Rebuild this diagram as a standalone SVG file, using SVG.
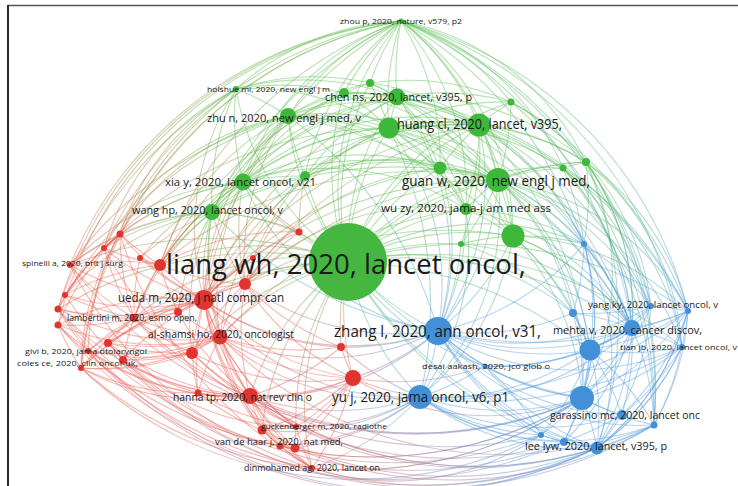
<svg xmlns="http://www.w3.org/2000/svg" width="738" height="486" viewBox="0 0 738 486">
<defs>
<linearGradient id="ggr" x1="0" y1="0" x2="0" y2="1"><stop offset="0" stop-color="#5cbf52"/><stop offset="1" stop-color="#ec6157"/></linearGradient>
<linearGradient id="ggb" x1="0" y1="0" x2="0" y2="1"><stop offset="0" stop-color="#5cbf52"/><stop offset="1" stop-color="#5aa0e2"/></linearGradient>
<linearGradient id="grb" x1="0" y1="0" x2="1" y2="0"><stop offset="0" stop-color="#ec6157"/><stop offset="1" stop-color="#5aa0e2"/></linearGradient>
</defs>
<style>
#edges{fill:none;stroke-width:1.1;stroke-opacity:.45}
.g{stroke:#5cbf52}.r{stroke:#ec6157}.b{stroke:#5aa0e2}
.gr{stroke:url(#ggr)}.gb{stroke:url(#ggb)}.rb{stroke:url(#grb)}
.ng{fill:#3eb83a}.nr{fill:#e2342e}.nb{fill:#4190d8}
text{font-family:"Open Sans","Liberation Sans",sans-serif;fill:#1a1a1a}
</style>
<rect width="738" height="486" fill="#fff"/>
<line x1="8" y1="5.5" x2="738" y2="5.5" stroke="#555" stroke-width="1.5"/>
<line x1="8" y1="5" x2="8" y2="486" stroke="#2a2a2a" stroke-width="2"/>
<g id="edges">
<g class="g">
<path d="M348 262A260 260 0 0 1 401 21"/><path d="M348 262A260 260 0 0 1 370 83"/><path d="M348 262A260 260 0 0 1 344 93"/><path d="M348 262A260 260 0 0 1 397 97"/><path d="M348 262A260 260 0 0 1 236 89"/><path d="M348 262A260 260 0 0 1 288 116"/><path d="M348 262A260 260 0 0 1 389 128"/><path d="M348 262A260 260 0 0 1 479 125"/><path d="M348 262A260 260 0 0 1 440 168"/><path d="M348 262A260 260 0 0 1 498 180"/><path d="M348 262A260 260 0 0 1 305 176"/><path d="M348 262A260 260 0 0 1 243 182"/><path d="M348 262A260 260 0 0 0 212 212"/><path d="M348 262A260 260 0 0 1 466 209"/><path d="M348 262A260 260 0 0 1 513 236"/><path d="M348 262A260 260 0 0 1 461 244"/><path d="M348 262A400 400 0 0 1 586 162"/><path d="M348 262A260 260 0 0 1 563 168"/><path d="M348 262A260 260 0 0 1 511 102"/>
<path d="M401 21A260 260 0 0 0 370 83"/><path d="M401 21A260 260 0 0 0 344 93"/><path d="M401 21A260 260 0 0 0 397 97"/><path d="M401 21A260 260 0 0 0 389 128"/><path d="M401 21A260 260 0 0 1 479 125"/><path d="M401 21A260 260 0 0 0 288 116"/><path d="M401 21A260 260 0 0 0 236 89"/><path d="M401 21A260 260 0 0 1 511 102"/><path d="M401 21A260 260 0 0 1 586 162"/><path d="M401 21A260 260 0 0 1 498 180"/><path d="M401 21A260 260 0 0 0 243 182"/><path d="M401 21A400 400 0 0 0 212 212"/><path d="M401 21A260 260 0 0 0 305 176"/><path d="M401 21A260 260 0 0 1 440 168"/><path d="M401 21A260 260 0 0 1 466 209"/><path d="M401 21A260 260 0 0 1 513 236"/><path d="M401 21A260 260 0 0 1 563 168"/>
<path d="M389 128A260 260 0 0 1 397 97"/><path d="M389 128A260 260 0 0 0 344 93"/><path d="M389 128A260 260 0 0 0 370 83"/><path d="M389 128A260 260 0 0 0 288 116"/><path d="M389 128A260 260 0 0 0 236 89"/><path d="M389 128A260 260 0 0 1 479 125"/><path d="M389 128A260 260 0 0 1 440 168"/><path d="M389 128A260 260 0 0 1 498 180"/><path d="M389 128A260 260 0 0 0 243 182"/><path d="M389 128A260 260 0 0 0 212 212"/><path d="M389 128A260 260 0 0 0 305 176"/><path d="M389 128A260 260 0 0 1 466 209"/><path d="M389 128A260 260 0 0 1 513 236"/><path d="M389 128A260 260 0 0 1 511 102"/><path d="M389 128A260 260 0 0 1 586 162"/><path d="M389 128A260 260 0 0 1 563 168"/>
<path d="M479 125A260 260 0 0 0 397 97"/><path d="M479 125A260 260 0 0 1 511 102"/><path d="M479 125A260 260 0 0 1 586 162"/><path d="M479 125A260 260 0 0 1 563 168"/><path d="M479 125A260 260 0 0 0 440 168"/><path d="M479 125A260 260 0 0 1 498 180"/><path d="M479 125A260 260 0 0 1 466 209"/><path d="M479 125A260 260 0 0 1 513 236"/><path d="M479 125A260 260 0 0 0 288 116"/><path d="M479 125A260 260 0 0 0 344 93"/><path d="M479 125A260 260 0 0 0 370 83"/><path d="M479 125A260 260 0 0 0 243 182"/><path d="M479 125A400 400 0 0 0 212 212"/><path d="M479 125A260 260 0 0 0 305 176"/><path d="M479 125A260 260 0 0 1 461 244"/>
<path d="M498 180A260 260 0 0 1 586 162"/><path d="M498 180A260 260 0 0 1 563 168"/><path d="M498 180A260 260 0 0 0 440 168"/><path d="M498 180A260 260 0 0 0 466 209"/><path d="M498 180A260 260 0 0 1 513 236"/><path d="M498 180A260 260 0 0 1 461 244"/><path d="M498 180A260 260 0 0 0 397 97"/><path d="M498 180A260 260 0 0 0 511 102"/><path d="M498 180A260 260 0 0 0 288 116"/><path d="M498 180A400 400 0 0 0 243 182"/><path d="M498 180A400 400 0 0 0 212 212"/><path d="M498 180A260 260 0 0 0 305 176"/><path d="M498 180A260 260 0 0 0 344 93"/>
<path d="M397 97A260 260 0 0 0 370 83"/><path d="M397 97A260 260 0 0 0 344 93"/><path d="M397 97A260 260 0 0 0 288 116"/><path d="M397 97A260 260 0 0 0 236 89"/><path d="M397 97A260 260 0 0 1 511 102"/><path d="M397 97A260 260 0 0 1 440 168"/><path d="M397 97A260 260 0 0 1 466 209"/><path d="M397 97A260 260 0 0 1 513 236"/><path d="M397 97A260 260 0 0 0 243 182"/><path d="M397 97A260 260 0 0 0 212 212"/><path d="M397 97A260 260 0 0 0 305 176"/><path d="M397 97A260 260 0 0 1 586 162"/>
<path d="M288 116A260 260 0 0 0 236 89"/><path d="M288 116A260 260 0 0 1 344 93"/><path d="M288 116A260 260 0 0 1 370 83"/><path d="M288 116A260 260 0 0 0 243 182"/><path d="M288 116A260 260 0 0 0 212 212"/><path d="M288 116A260 260 0 0 0 305 176"/><path d="M288 116A260 260 0 0 1 440 168"/><path d="M288 116A260 260 0 0 1 466 209"/><path d="M288 116A400 400 0 0 1 513 236"/>
<path d="M243 182A260 260 0 0 0 212 212"/><path d="M243 182A260 260 0 0 1 305 176"/><path d="M243 182A260 260 0 0 1 236 89"/><path d="M243 182A260 260 0 0 1 344 93"/><path d="M243 182A260 260 0 0 1 440 168"/><path d="M243 182A260 260 0 0 1 466 209"/>
<path d="M212 212A260 260 0 0 1 305 176"/><path d="M212 212A260 260 0 0 1 236 89"/><path d="M212 212A260 260 0 0 1 344 93"/>
<path d="M511 102A260 260 0 0 1 586 162"/><path d="M586 162A260 260 0 0 0 563 168"/><path d="M370 83A260 260 0 0 0 344 93"/><path d="M370 83A260 260 0 0 1 397 97"/><path d="M370 83A260 260 0 0 1 511 102"/><path d="M440 168A260 260 0 0 1 498 180"/><path d="M440 168A260 260 0 0 1 466 209"/><path d="M466 209A260 260 0 0 1 513 236"/><path d="M513 236A260 260 0 0 0 461 244"/><path d="M305 176A260 260 0 0 1 440 168"/><path d="M236 89A260 260 0 0 1 344 93"/><path d="M236 89A260 260 0 0 1 370 83"/><path d="M344 93A260 260 0 0 1 397 97"/>
</g>
<g class="gb">
<path d="M348 262A260 260 0 0 0 438 331"/><path d="M348 262A260 260 0 0 0 420 397"/><path d="M348 262A400 400 0 0 1 632 328"/><path d="M348 262A400 400 0 0 0 582 398"/><path d="M348 262A400 400 0 0 1 590 350"/><path d="M348 262A400 400 0 0 0 597 448"/><path d="M348 262A260 260 0 0 1 584 244"/><path d="M348 262A260 260 0 0 1 573 313"/><path d="M348 262A260 260 0 0 0 485 366"/><path d="M348 262A400 400 0 0 1 688 311"/><path d="M348 262A400 400 0 0 1 682 347"/><path d="M348 262A400 400 0 0 0 541 435"/>
<path d="M401 21A400 400 0 0 1 688 311"/><path d="M401 21A400 400 0 0 1 682 347"/><path d="M401 21A400 400 0 0 1 632 328"/><path d="M401 21A400 400 0 0 1 584 244"/><path d="M401 21A400 400 0 0 1 651 306"/><path d="M401 21A400 400 0 0 1 654 425"/>
<path d="M389 128A260 260 0 0 1 438 331"/><path d="M389 128A400 400 0 0 1 632 328"/><path d="M389 128A260 260 0 0 1 584 244"/><path d="M389 128A400 400 0 0 1 420 397"/>
<path d="M479 125A260 260 0 0 1 584 244"/><path d="M479 125A400 400 0 0 1 632 328"/><path d="M479 125A400 400 0 0 1 688 311"/><path d="M479 125A400 400 0 0 1 651 306"/><path d="M479 125A260 260 0 0 1 438 331"/><path d="M479 125A400 400 0 0 1 590 350"/>
<path d="M498 180A260 260 0 0 1 584 244"/><path d="M498 180A260 260 0 0 1 632 328"/><path d="M498 180A260 260 0 0 1 688 311"/><path d="M498 180A260 260 0 0 1 651 306"/><path d="M498 180A260 260 0 0 1 438 331"/><path d="M498 180A260 260 0 0 1 590 350"/><path d="M498 180A260 260 0 0 1 682 347"/><path d="M498 180A260 260 0 0 1 582 398"/><path d="M498 180A260 260 0 0 1 573 313"/><path d="M498 180A260 260 0 0 1 420 397"/>
<path d="M397 97A400 400 0 0 1 632 328"/><path d="M397 97A260 260 0 0 1 584 244"/><path d="M397 97A400 400 0 0 1 688 311"/><path d="M397 97A260 260 0 0 1 438 331"/>
<path d="M288 116A400 400 0 0 1 438 331"/><path d="M288 116A400 400 0 0 1 632 328"/><path d="M243 182A260 260 0 0 0 438 331"/><path d="M212 212A400 400 0 0 0 438 331"/>
<path d="M513 236A260 260 0 0 1 584 244"/><path d="M513 236A260 260 0 0 1 632 328"/><path d="M513 236A260 260 0 0 1 590 350"/><path d="M513 236A260 260 0 0 1 688 311"/><path d="M513 236A260 260 0 0 1 573 313"/><path d="M438 331A260 260 0 0 0 513 236"/><path d="M420 397A260 260 0 0 0 513 236"/><path d="M582 398A260 260 0 0 0 513 236"/>
<path d="M461 244A260 260 0 0 1 573 313"/><path d="M461 244A260 260 0 0 1 632 328"/><path d="M438 331A260 260 0 0 0 461 244"/>
<path d="M466 209A260 260 0 0 1 632 328"/><path d="M466 209A260 260 0 0 1 584 244"/><path d="M466 209A260 260 0 0 1 420 397"/><path d="M438 331A260 260 0 0 0 466 209"/><path d="M440 168A260 260 0 0 1 438 331"/>
<path d="M563 168A260 260 0 0 1 584 244"/><path d="M563 168A260 260 0 0 1 632 328"/><path d="M563 168A260 260 0 0 1 651 306"/><path d="M563 168A400 400 0 0 1 654 425"/><path d="M563 168A260 260 0 0 1 682 347"/>
<path d="M586 162A260 260 0 0 1 651 306"/><path d="M586 162A260 260 0 0 1 632 328"/><path d="M586 162A260 260 0 0 1 584 244"/><path d="M586 162A260 260 0 0 1 688 311"/><path d="M586 162A260 260 0 0 1 682 347"/><path d="M586 162A400 400 0 0 1 597 448"/><path d="M586 162A400 400 0 0 1 654 425"/><path d="M582 398A260 260 0 0 0 586 162"/><path d="M632 328A260 260 0 0 0 586 162"/><path d="M632 328A260 260 0 0 0 563 168"/><path d="M632 328A260 260 0 0 0 513 236"/>
<path d="M511 102A400 400 0 0 1 688 311"/><path d="M511 102A400 400 0 0 1 654 425"/>
</g>
<g class="gr">
<path d="M348 262A260 260 0 0 0 204 300"/><path d="M348 262A260 260 0 0 0 245 284"/><path d="M348 262A260 260 0 0 0 160 265"/><path d="M348 262A260 260 0 0 0 220 337"/><path d="M348 262A260 260 0 0 0 250 396"/><path d="M348 262A260 260 0 0 0 353 378"/><path d="M348 262A260 260 0 0 0 341 347"/><path d="M348 262A260 260 0 0 0 134 318"/><path d="M348 262A260 260 0 0 1 299 232"/><path d="M348 262A260 260 0 0 0 192 353"/><path d="M348 262A260 260 0 0 0 296 427"/><path d="M348 262A400 400 0 0 0 58 309"/><path d="M348 262A400 400 0 0 0 70 265"/><path d="M348 262A400 400 0 0 0 81 368"/><path d="M348 262A260 260 0 0 0 262 430"/><path d="M348 262A260 260 0 0 0 312 468"/>
<path d="M401 21A400 400 0 0 0 104 248"/><path d="M401 21A400 400 0 0 0 120 234"/><path d="M401 21A400 400 0 0 0 70 265"/><path d="M401 21A400 400 0 0 0 58 309"/><path d="M401 21A400 400 0 0 0 160 265"/><path d="M401 21A400 400 0 0 0 204 300"/><path d="M401 21A400 400 0 0 0 58 325"/><path d="M401 21A400 400 0 0 0 81 368"/>
<path d="M389 128A260 260 0 0 0 245 284"/><path d="M389 128A400 400 0 0 0 204 300"/><path d="M389 128A400 400 0 0 0 104 248"/><path d="M479 125A400 400 0 0 0 245 284"/><path d="M479 125A400 400 0 0 0 204 300"/><path d="M498 180A400 400 0 0 0 245 284"/><path d="M498 180A400 400 0 0 0 204 300"/><path d="M498 180A400 400 0 0 0 160 265"/><path d="M397 97A400 400 0 0 0 160 265"/><path d="M397 97A400 400 0 0 0 204 300"/>
<path d="M288 116A260 260 0 0 0 160 265"/><path d="M288 116A260 260 0 0 0 104 248"/><path d="M288 116A260 260 0 0 0 120 234"/><path d="M288 116A260 260 0 0 0 204 300"/><path d="M288 116A260 260 0 0 0 245 284"/><path d="M288 116A400 400 0 0 0 70 265"/><path d="M288 116A400 400 0 0 0 58 309"/>
<path d="M243 182A260 260 0 0 0 160 265"/><path d="M243 182A260 260 0 0 0 140 258"/><path d="M243 182A260 260 0 0 0 104 248"/><path d="M243 182A260 260 0 0 0 120 234"/><path d="M243 182A260 260 0 0 0 204 300"/><path d="M243 182A260 260 0 0 0 245 284"/><path d="M243 182A260 260 0 0 0 220 337"/><path d="M243 182A260 260 0 0 0 134 318"/><path d="M243 182A260 260 0 0 0 299 232"/><path d="M243 182A260 260 0 0 0 70 265"/>
<path d="M212 212A260 260 0 0 0 160 265"/><path d="M212 212A260 260 0 0 0 140 258"/><path d="M212 212A260 260 0 0 0 104 248"/><path d="M212 212A260 260 0 0 0 120 234"/><path d="M212 212A260 260 0 0 0 70 265"/><path d="M212 212A260 260 0 0 0 65 295"/><path d="M212 212A260 260 0 0 0 204 300"/><path d="M212 212A260 260 0 0 0 245 284"/><path d="M212 212A260 260 0 0 0 220 337"/><path d="M212 212A260 260 0 0 0 134 318"/><path d="M212 212A260 260 0 0 0 178 312"/><path d="M212 212A260 260 0 0 0 192 353"/><path d="M212 212A260 260 0 0 1 299 232"/><path d="M212 212A260 260 0 0 0 250 396"/>
<path d="M305 176A260 260 0 0 0 299 232"/><path d="M305 176A260 260 0 0 0 204 300"/><path d="M305 176A260 260 0 0 0 245 284"/><path d="M305 176A260 260 0 0 0 220 337"/><path d="M344 93A400 400 0 0 0 160 265"/><path d="M236 89A260 260 0 0 0 204 300"/><path d="M236 89A260 260 0 0 0 120 234"/><path d="M236 89A400 400 0 0 0 58 309"/><path d="M236 89A400 400 0 0 0 81 368"/><path d="M236 89A260 260 0 0 0 104 248"/>
<path d="M440 168A400 400 0 0 0 204 300"/><path d="M440 168A260 260 0 0 0 245 284"/><path d="M466 209A260 260 0 0 0 245 284"/><path d="M466 209A400 400 0 0 0 220 337"/><path d="M513 236A400 400 0 0 0 245 284"/>
</g>
<g class="r">
<path d="M204 300A260 260 0 0 1 245 284"/><path d="M204 300A260 260 0 0 0 178 312"/><path d="M204 300A260 260 0 0 1 160 265"/><path d="M204 300A260 260 0 0 1 140 258"/><path d="M204 300A260 260 0 0 1 104 248"/><path d="M204 300A260 260 0 0 1 120 234"/><path d="M204 300A260 260 0 0 1 70 265"/><path d="M204 300A260 260 0 0 1 65 295"/><path d="M204 300A260 260 0 0 1 58 309"/><path d="M204 300A260 260 0 0 0 134 318"/><path d="M204 300A260 260 0 0 0 58 325"/><path d="M204 300A260 260 0 0 0 220 337"/><path d="M204 300A260 260 0 0 0 341 347"/><path d="M204 300A260 260 0 0 0 192 353"/><path d="M204 300A260 260 0 0 0 108 343"/><path d="M204 300A260 260 0 0 0 88 351"/><path d="M204 300A260 260 0 0 0 123 360"/><path d="M204 300A260 260 0 0 0 81 368"/><path d="M204 300A260 260 0 0 0 353 378"/><path d="M204 300A260 260 0 0 0 250 396"/><path d="M204 300A260 260 0 0 0 198 393"/><path d="M204 300A260 260 0 0 0 296 427"/><path d="M204 300A260 260 0 0 0 262 430"/><path d="M204 300A260 260 0 0 0 280 446"/><path d="M204 300A260 260 0 0 0 312 468"/><path d="M204 300A260 260 0 0 1 299 232"/><path d="M204 300A260 260 0 0 1 253 258"/>
<path d="M250 396A260 260 0 0 1 198 393"/><path d="M250 396A260 260 0 0 0 296 427"/><path d="M250 396A260 260 0 0 0 262 430"/><path d="M250 396A260 260 0 0 0 280 446"/><path d="M250 396A260 260 0 0 0 295 448"/><path d="M250 396A260 260 0 0 0 312 468"/><path d="M250 396A260 260 0 0 0 353 378"/><path d="M250 396A260 260 0 0 0 341 347"/><path d="M250 396A260 260 0 0 1 220 337"/><path d="M250 396A260 260 0 0 1 192 353"/><path d="M250 396A260 260 0 0 1 123 360"/><path d="M250 396A260 260 0 0 1 81 368"/><path d="M250 396A260 260 0 0 1 88 351"/><path d="M250 396A260 260 0 0 1 108 343"/><path d="M250 396A260 260 0 0 1 58 325"/><path d="M250 396A260 260 0 0 1 58 309"/><path d="M250 396A260 260 0 0 1 134 318"/><path d="M250 396A260 260 0 0 1 178 312"/><path d="M250 396A260 260 0 0 1 245 284"/>
<path d="M245 284A260 260 0 0 1 299 232"/><path d="M245 284A260 260 0 0 1 160 265"/><path d="M245 284A260 260 0 0 0 220 337"/><path d="M245 284A260 260 0 0 0 341 347"/><path d="M245 284A260 260 0 0 0 353 378"/><path d="M245 284A260 260 0 0 0 134 318"/><path d="M245 284A260 260 0 0 0 178 312"/><path d="M245 284A260 260 0 0 0 192 353"/>
<path d="M220 337A260 260 0 0 0 192 353"/><path d="M220 337A260 260 0 0 1 178 312"/><path d="M220 337A260 260 0 0 1 134 318"/><path d="M220 337A260 260 0 0 1 108 343"/><path d="M220 337A260 260 0 0 1 88 351"/><path d="M220 337A260 260 0 0 1 123 360"/><path d="M220 337A260 260 0 0 1 81 368"/><path d="M220 337A260 260 0 0 0 341 347"/><path d="M220 337A260 260 0 0 0 353 378"/><path d="M220 337A260 260 0 0 0 198 393"/><path d="M220 337A260 260 0 0 0 296 427"/><path d="M220 337A260 260 0 0 0 262 430"/><path d="M220 337A260 260 0 0 1 58 325"/><path d="M220 337A260 260 0 0 1 58 309"/>
<path d="M353 378A260 260 0 0 1 341 347"/><path d="M353 378A260 260 0 0 1 296 427"/><path d="M353 378A260 260 0 0 1 262 430"/><path d="M353 378A260 260 0 0 1 280 446"/><path d="M353 378A260 260 0 0 1 295 448"/><path d="M353 378A260 260 0 0 1 312 468"/><path d="M353 378A260 260 0 0 1 192 353"/><path d="M353 378A260 260 0 0 1 198 393"/>
<path d="M192 353A260 260 0 0 1 108 343"/><path d="M192 353A260 260 0 0 1 88 351"/><path d="M192 353A260 260 0 0 1 123 360"/><path d="M192 353A260 260 0 0 1 81 368"/><path d="M192 353A260 260 0 0 0 198 393"/><path d="M192 353A260 260 0 0 1 134 318"/>
<path d="M134 318A260 260 0 0 1 65 295"/><path d="M134 318A260 260 0 0 1 58 309"/><path d="M134 318A260 260 0 0 1 58 325"/><path d="M134 318A260 260 0 0 1 70 265"/><path d="M134 318A260 260 0 0 1 160 265"/><path d="M134 318A260 260 0 0 1 140 258"/><path d="M134 318A260 260 0 0 1 104 248"/><path d="M134 318A260 260 0 0 1 120 234"/><path d="M134 318A260 260 0 0 0 108 343"/><path d="M134 318A260 260 0 0 0 88 351"/><path d="M134 318A260 260 0 0 0 123 360"/><path d="M134 318A260 260 0 0 0 81 368"/><path d="M134 318A260 260 0 0 0 178 312"/>
<path d="M160 265A260 260 0 0 1 140 258"/><path d="M160 265A260 260 0 0 1 104 248"/><path d="M160 265A260 260 0 0 1 120 234"/><path d="M160 265A260 260 0 0 0 70 265"/><path d="M160 265A260 260 0 0 0 65 295"/><path d="M160 265A260 260 0 0 0 178 312"/><path d="M160 265A260 260 0 0 1 299 232"/>
<path d="M120 234A260 260 0 0 0 104 248"/><path d="M120 234A260 260 0 0 0 70 265"/><path d="M120 234A260 260 0 0 0 65 295"/><path d="M120 234A260 260 0 0 0 58 309"/><path d="M120 234A260 260 0 0 0 58 325"/><path d="M120 234A260 260 0 0 0 81 368"/><path d="M120 234A260 260 0 0 0 88 351"/>
<path d="M104 248A260 260 0 0 0 65 295"/><path d="M81 368A260 260 0 0 1 58 325"/><path d="M88 351A260 260 0 0 1 58 309"/><path d="M123 360A260 260 0 0 1 108 343"/><path d="M178 312A260 260 0 0 0 108 343"/>
<path d="M198 393A260 260 0 0 1 81 368"/><path d="M198 393A260 260 0 0 1 123 360"/><path d="M198 393A260 260 0 0 0 296 427"/><path d="M198 393A260 260 0 0 0 262 430"/>
<path d="M262 430A260 260 0 0 0 280 446"/><path d="M262 430A260 260 0 0 0 312 468"/><path d="M296 427A260 260 0 0 0 312 468"/><path d="M296 427A260 260 0 0 0 295 448"/><path d="M280 446A260 260 0 0 0 312 468"/><path d="M262 430A260 260 0 0 0 296 427"/>
<path d="M120 234A400 400 0 0 0 312 468"/><path d="M104 248A400 400 0 0 0 296 427"/><path d="M70 265A400 400 0 0 0 312 468"/><path d="M58 309A400 400 0 0 0 280 446"/><path d="M58 325A400 400 0 0 0 295 448"/><path d="M81 368A400 400 0 0 0 312 468"/><path d="M88 351A400 400 0 0 0 312 468"/><path d="M108 343A260 260 0 0 0 296 427"/><path d="M123 360A260 260 0 0 0 280 446"/>
</g>
<g class="rb">
<path d="M438 331A260 260 0 0 1 353 378"/><path d="M438 331A260 260 0 0 1 341 347"/><path d="M438 331A260 260 0 0 1 220 337"/><path d="M438 331A260 260 0 0 1 245 284"/><path d="M204 300A260 260 0 0 0 438 331"/><path d="M204 300A260 260 0 0 0 420 397"/>
<path d="M420 397A260 260 0 0 1 353 378"/><path d="M420 397A260 260 0 0 1 341 347"/><path d="M420 397A260 260 0 0 1 296 427"/><path d="M420 397A260 260 0 0 1 262 430"/><path d="M420 397A260 260 0 0 1 280 446"/><path d="M420 397A260 260 0 0 1 312 468"/><path d="M420 397A260 260 0 0 1 295 448"/><path d="M420 397A260 260 0 0 1 220 337"/>
<path d="M582 398A260 260 0 0 1 353 378"/><path d="M582 398A400 400 0 0 1 312 468"/><path d="M582 398A400 400 0 0 1 280 446"/>
<path d="M250 396A260 260 0 0 0 420 397"/><path d="M250 396A260 260 0 0 0 438 331"/><path d="M250 396A400 400 0 0 0 582 398"/><path d="M250 396A400 400 0 0 0 597 448"/><path d="M250 396A400 400 0 0 0 541 435"/><path d="M250 396A400 400 0 0 0 654 425"/><path d="M353 378A260 260 0 0 0 485 366"/>
<path d="M58 309A430 430 0 0 0 597 448"/><path d="M58 325A430 430 0 0 0 564 442"/><path d="M81 368A400 400 0 0 0 541 435"/><path d="M88 351A430 430 0 0 0 597 448"/><path d="M134 318A400 400 0 0 0 582 398"/><path d="M108 343A430 430 0 0 0 654 425"/><path d="M123 360A430 430 0 0 0 622 415"/><path d="M65 295A430 430 0 0 0 597 448"/><path d="M70 265A430 430 0 0 0 582 398"/>
<path d="M312 468A400 400 0 0 0 597 448"/><path d="M280 446A400 400 0 0 0 541 435"/><path d="M296 427A400 400 0 0 0 564 442"/><path d="M262 430A400 400 0 0 0 597 448"/><path d="M312 468A260 260 0 0 0 541 435"/><path d="M295 448A400 400 0 0 0 654 425"/><path d="M280 446A400 400 0 0 0 582 398"/><path d="M312 468A400 400 0 0 0 582 398"/><path d="M192 353A400 400 0 0 0 597 448"/><path d="M220 337A400 400 0 0 0 654 425"/>
</g>
<g class="b">
<path d="M438 331A260 260 0 0 1 420 397"/><path d="M438 331A260 260 0 0 0 485 366"/><path d="M438 331A260 260 0 0 0 582 398"/><path d="M438 331A260 260 0 0 0 590 350"/><path d="M438 331A260 260 0 0 0 632 328"/><path d="M438 331A260 260 0 0 0 573 313"/><path d="M438 331A260 260 0 0 0 584 244"/><path d="M438 331A400 400 0 0 0 688 311"/><path d="M438 331A260 260 0 0 0 651 306"/><path d="M438 331A260 260 0 0 0 682 347"/><path d="M438 331A260 260 0 0 0 622 415"/><path d="M438 331A260 260 0 0 0 654 425"/><path d="M438 331A260 260 0 0 0 541 435"/><path d="M438 331A260 260 0 0 0 564 442"/><path d="M438 331A260 260 0 0 0 597 448"/>
<path d="M420 397A260 260 0 0 0 485 366"/><path d="M420 397A260 260 0 0 0 582 398"/><path d="M420 397A260 260 0 0 0 590 350"/><path d="M420 397A260 260 0 0 0 632 328"/><path d="M420 397A260 260 0 0 0 622 415"/><path d="M420 397A260 260 0 0 0 654 425"/><path d="M420 397A260 260 0 0 0 541 435"/><path d="M420 397A260 260 0 0 0 564 442"/><path d="M420 397A260 260 0 0 0 597 448"/><path d="M420 397A400 400 0 0 0 682 347"/><path d="M420 397A400 400 0 0 0 688 311"/>
<path d="M582 398A260 260 0 0 0 590 350"/><path d="M582 398A260 260 0 0 0 632 328"/><path d="M582 398A260 260 0 0 0 622 415"/><path d="M582 398A260 260 0 0 0 654 425"/><path d="M582 398A260 260 0 0 1 541 435"/><path d="M582 398A260 260 0 0 1 564 442"/><path d="M582 398A260 260 0 0 1 597 448"/><path d="M582 398A260 260 0 0 0 682 347"/><path d="M582 398A260 260 0 0 0 688 311"/><path d="M582 398A260 260 0 0 0 651 306"/><path d="M582 398A260 260 0 0 0 573 313"/><path d="M582 398A260 260 0 0 0 584 244"/><path d="M582 398A260 260 0 0 1 485 366"/>
<path d="M632 328A260 260 0 0 0 688 311"/><path d="M632 328A260 260 0 0 0 651 306"/><path d="M632 328A260 260 0 0 1 590 350"/><path d="M632 328A260 260 0 0 1 682 347"/><path d="M632 328A260 260 0 0 0 573 313"/><path d="M632 328A260 260 0 0 0 584 244"/><path d="M632 328A260 260 0 0 1 622 415"/><path d="M632 328A260 260 0 0 1 654 425"/><path d="M632 328A260 260 0 0 1 597 448"/><path d="M632 328A260 260 0 0 1 564 442"/><path d="M632 328A260 260 0 0 1 485 366"/>
<path d="M590 350A260 260 0 0 0 682 347"/><path d="M590 350A260 260 0 0 0 688 311"/><path d="M590 350A260 260 0 0 0 651 306"/><path d="M590 350A260 260 0 0 1 622 415"/><path d="M590 350A260 260 0 0 1 654 425"/><path d="M590 350A260 260 0 0 1 597 448"/><path d="M590 350A260 260 0 0 1 564 442"/><path d="M590 350A260 260 0 0 1 541 435"/><path d="M590 350A260 260 0 0 0 573 313"/>
<path d="M597 448A260 260 0 0 1 564 442"/><path d="M597 448A260 260 0 0 1 541 435"/><path d="M597 448A260 260 0 0 0 622 415"/><path d="M597 448A260 260 0 0 0 654 425"/><path d="M597 448A260 260 0 0 0 682 347"/><path d="M597 448A260 260 0 0 0 688 311"/><path d="M597 448A260 260 0 0 0 651 306"/><path d="M597 448A260 260 0 0 1 485 366"/>
<path d="M688 311A260 260 0 0 0 651 306"/><path d="M688 311A260 260 0 0 1 682 347"/><path d="M688 311A260 260 0 0 1 654 425"/><path d="M688 311A260 260 0 0 1 622 415"/><path d="M688 311A260 260 0 0 1 597 448"/><path d="M682 347A260 260 0 0 1 654 425"/><path d="M682 347A260 260 0 0 1 597 448"/><path d="M682 347A260 260 0 0 1 622 415"/><path d="M651 306A260 260 0 0 1 573 313"/><path d="M651 306A260 260 0 0 0 584 244"/><path d="M584 244A260 260 0 0 1 573 313"/><path d="M573 313A260 260 0 0 1 590 350"/><path d="M541 435A260 260 0 0 0 564 442"/><path d="M485 366A260 260 0 0 1 541 435"/><path d="M485 366A260 260 0 0 0 590 350"/><path d="M485 366A260 260 0 0 0 632 328"/>
<path d="M584 244A260 260 0 0 1 582 398"/><path d="M584 244A260 260 0 0 1 597 448"/><path d="M584 244A260 260 0 0 1 590 350"/><path d="M584 244A260 260 0 0 1 632 328"/>
</g>
</g>
<g id="n-g3"><circle class="ng" cx="370" cy="83" r="4"/></g>
<g id="n-g4"><circle class="ng" cx="344" cy="93" r="5"/></g>
<g id="n-g6"><circle class="ng" cx="511" cy="102" r="3.5"/></g>
<g id="n-h1"><circle class="ng" cx="389" cy="128" r="10.5"/></g>
<g id="n-g10"><circle class="ng" cx="586" cy="162" r="4"/></g>
<g id="n-g11"><circle class="ng" cx="563" cy="168" r="3.5"/></g>
<g id="n-g12"><circle class="ng" cx="440" cy="168" r="6.5"/></g>
<g id="n-g14"><circle class="ng" cx="305" cy="176" r="5"/></g>
<g id="n-g18"><circle class="ng" cx="513" cy="236" r="11.5"/></g>
<g id="n-g19"><circle class="ng" cx="461" cy="244" r="3"/></g>
<g id="n-b2"><circle class="nb" cx="584" cy="244" r="3"/></g>
<g id="n-b3"><circle class="nb" cx="573" cy="313" r="4"/></g>
<g id="n-b5"><circle class="nb" cx="688" cy="311" r="3"/></g>
<g id="n-b7"><circle class="nb" cx="590" cy="350" r="10.5"/></g>
<g id="n-b12"><circle class="nb" cx="654" cy="425" r="3.5"/></g>
<g id="n-b13"><circle class="nb" cx="541" cy="435" r="3"/></g>
<g id="n-b14"><circle class="nb" cx="564" cy="442" r="4"/></g>
<g id="n-b15"><circle class="nb" cx="582" cy="398" r="12"/></g>
<g id="n-r2"><circle class="nr" cx="245" cy="284" r="6"/></g>
<g id="n-r3"><circle class="nr" cx="178" cy="312" r="4"/></g>
<g id="n-r4"><circle class="nr" cx="160" cy="265" r="6"/></g>
<g id="n-r5"><circle class="nr" cx="140" cy="258" r="3"/></g>
<g id="n-r6"><circle class="nr" cx="104" cy="248" r="3"/></g>
<g id="n-r7"><circle class="nr" cx="120" cy="234" r="3.5"/></g>
<g id="n-r8"><circle class="nr" cx="65" cy="295" r="3"/></g>
<g id="n-r9"><circle class="nr" cx="58" cy="309" r="3.5"/></g>
<g id="n-r11"><circle class="nr" cx="58" cy="325" r="3.5"/></g>
<g id="n-r13"><circle class="nr" cx="341" cy="347" r="4"/></g>
<g id="n-r14"><circle class="nr" cx="192" cy="353" r="6"/></g>
<g id="n-r15"><circle class="nr" cx="108" cy="343" r="4"/></g>
<g id="n-r16"><circle class="nr" cx="123" cy="360" r="4"/></g>
<g id="n-r18"><circle class="nr" cx="353" cy="378" r="8"/></g>
<g id="n-r20"><circle class="nr" cx="198" cy="393" r="3.5"/></g>
<g id="n-r21"><circle class="nr" cx="262" cy="430" r="4.5"/></g>
<g id="n-r22"><circle class="nr" cx="295" cy="448" r="4.5"/></g>
<g id="n-r24"><circle class="nr" cx="299" cy="232" r="3.5"/></g>
<g id="n-r25"><circle class="nr" cx="253" cy="258" r="3"/></g>
<g id="n-spinelli"><circle class="nr" cx="70" cy="265" r="3"/><text x="22" y="266" font-size="8" textLength="103" lengthAdjust="spacingAndGlyphs">spinelli a, 2020, brit j surg.</text></g>
<g id="n-lambertini"><circle class="nr" cx="134" cy="318" r="4"/><text x="67" y="321" font-size="8.5" textLength="130" lengthAdjust="spacingAndGlyphs">lambertini m, 2020, esmo open,</text></g>
<g id="n-givi"><circle class="nr" cx="88" cy="351" r="3"/><text x="25" y="354" font-size="8" textLength="122" lengthAdjust="spacingAndGlyphs">givi b, 2020, jama otolaryngol</text></g>
<g id="n-coles"><circle class="nr" cx="81" cy="368" r="3"/><text x="17" y="366" font-size="8" textLength="121" lengthAdjust="spacingAndGlyphs">coles ce, 2020, clin oncol-uk,</text></g>
<g id="n-guckenberger"><circle class="nr" cx="296" cy="427" r="3"/><text x="261" y="429" font-size="8" textLength="126" lengthAdjust="spacingAndGlyphs">guckenberger m, 2020, radiothe</text></g>
<g id="n-vandehaar"><circle class="nr" cx="280" cy="446" r="3.5"/><text x="215" y="445" font-size="9" textLength="128" lengthAdjust="spacingAndGlyphs">van de haar j, 2020, nat med,</text></g>
<g id="n-dinmohamed"><circle class="nr" cx="312" cy="468" r="3"/><text x="244" y="471" font-size="8.5" textLength="136" lengthAdjust="spacingAndGlyphs">dinmohamed ag, 2020, lancet on</text></g>
<g id="n-zhou"><circle class="ng" cx="401" cy="21" r="2.5"/><text x="340" y="24" font-size="8" textLength="122" lengthAdjust="spacingAndGlyphs">zhou p, 2020, nature, v579, p2</text></g>
<g id="n-holshue"><circle class="ng" cx="236" cy="89" r="3"/><text x="207" y="92" font-size="8" textLength="123" lengthAdjust="spacingAndGlyphs">holshue ml, 2020, new engl j m</text></g>
<g id="n-yang"><circle class="nb" cx="651" cy="306" r="3"/><text x="588" y="308" font-size="8.5" textLength="130" lengthAdjust="spacingAndGlyphs">yang ky, 2020, lancet oncol, v</text></g>
<g id="n-tian"><circle class="nb" cx="682" cy="347" r="3"/><text x="620" y="350" font-size="8" textLength="117" lengthAdjust="spacingAndGlyphs">tian jb, 2020, lancet oncol, v</text></g>
<g id="n-desai"><circle class="nb" cx="485" cy="366" r="2.5"/><text x="422" y="369" font-size="8" textLength="128" lengthAdjust="spacingAndGlyphs">desai aakash, 2020, jco glob o</text></g>
<g id="n-hanna"><circle class="nr" cx="250" cy="396" r="8"/><text x="173" y="401" font-size="10.5" textLength="139" lengthAdjust="spacingAndGlyphs">hanna tp, 2020, nat rev clin o</text></g>
<g id="n-alshamsi"><circle class="nr" cx="220" cy="337" r="7.5"/><text x="148" y="338" font-size="11" textLength="146" lengthAdjust="spacingAndGlyphs">al-shamsi ho, 2020, oncologist</text></g>
<g id="n-ueda"><circle class="nr" cx="204" cy="300" r="10"/><text x="118" y="302" font-size="12" textLength="166" lengthAdjust="spacingAndGlyphs">ueda m, 2020, j natl compr can</text></g>
<g id="n-garassino"><circle class="nb" cx="622" cy="415" r="5"/><text x="550" y="419" font-size="11" textLength="150" lengthAdjust="spacingAndGlyphs">garassino mc, 2020, lancet onc</text></g>
<g id="n-lee"><circle class="nb" cx="597" cy="448" r="6.5"/><text x="525" y="450" font-size="11" textLength="142" lengthAdjust="spacingAndGlyphs">lee lyw, 2020, lancet, v395, p</text></g>
<g id="n-mehta"><circle class="nb" cx="632" cy="328" r="8"/><text x="553" y="334" font-size="11" textLength="149" lengthAdjust="spacingAndGlyphs">mehta v, 2020, cancer discov,</text></g>
<g id="n-wang"><circle class="ng" cx="212" cy="212" r="8"/><text x="132" y="214" font-size="11" textLength="151" lengthAdjust="spacingAndGlyphs">wang hp, 2020, lancet oncol, v</text></g>
<g id="n-xia"><circle class="ng" cx="243" cy="182" r="8.5"/><text x="165" y="186" font-size="11.5" textLength="151" lengthAdjust="spacingAndGlyphs">xia y, 2020, lancet oncol, v21</text></g>
<g id="n-wu"><circle class="ng" cx="466" cy="209" r="6"/><text x="381" y="212" font-size="11" textLength="170" lengthAdjust="spacingAndGlyphs">wu zy, 2020, jama-j am med ass</text></g>
<g id="n-zhu"><circle class="ng" cx="288" cy="116" r="8"/><text x="207" y="122" font-size="11" textLength="154" lengthAdjust="spacingAndGlyphs">zhu n, 2020, new engl j med, v</text></g>
<g id="n-chen"><circle class="ng" cx="397" cy="97" r="8.5"/><text x="325" y="101" font-size="11" textLength="147" lengthAdjust="spacingAndGlyphs">chen ns, 2020, lancet, v395, p</text></g>
<g id="n-huang"><circle class="ng" cx="479" cy="125" r="11.5"/><text x="397" y="129" font-size="14" textLength="165" lengthAdjust="spacingAndGlyphs">huang cl, 2020, lancet, v395,</text></g>
<g id="n-guan"><circle class="ng" cx="498" cy="180" r="12"/><text x="402" y="186" font-size="14" textLength="188" lengthAdjust="spacingAndGlyphs">guan w, 2020, new engl j med,</text></g>
<g id="n-yu"><circle class="nb" cx="420" cy="397" r="12"/><text x="332" y="402" font-size="15" textLength="177" lengthAdjust="spacingAndGlyphs">yu j, 2020, jama oncol, v6, p1</text></g>
<g id="n-zhang"><circle class="nb" cx="438" cy="331" r="14"/><text x="334" y="337" font-size="17" textLength="207" lengthAdjust="spacingAndGlyphs">zhang l, 2020, ann oncol, v31,</text></g>
<g id="n-liang"><circle cx="348" cy="262" r="39" fill="#45b63f"/><text x="166" y="274" font-size="27" textLength="360" lengthAdjust="spacingAndGlyphs">liang wh, 2020, lancet oncol,</text></g>
</svg>
